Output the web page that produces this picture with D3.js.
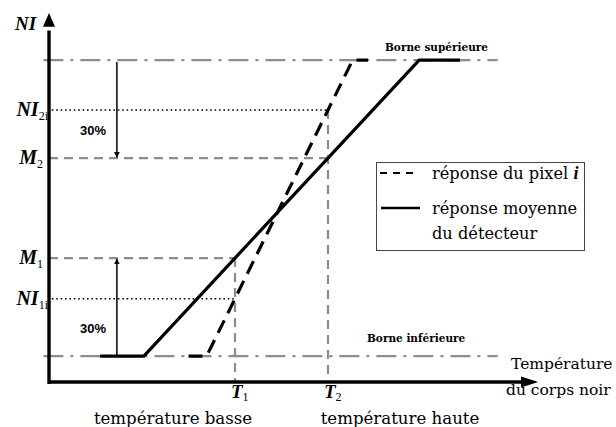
<!DOCTYPE html>
<html>
<head>
<meta charset="utf-8">
<script src="https://cdn.jsdelivr.net/npm/d3@7"></script>
<style>
  html, body { margin: 0; padding: 0; background: #fff; }
  svg { display: block; }
</style>
</head>
<body>
<svg id="chart" width="616" height="427"></svg>
<script>
// Saturation bounds of the detector signal (lower, upper)
const boundNames = ["Borne inférieure", "Borne supérieure"];
const boundValues = [7, 87];

// Calibration temperatures
const tempSymbols = ["T", "T"];
const tempSubs = ["1", "2"];
const tempValues = [40, 60];
const tempCaptions = ["température basse", "température haute"];

// Mean detector level at each temperature (M1, M2)
const meanSymbols = ["M", "M"];
const meanSubs = ["1", "2"];
const meanValues = [33.5, 60.5];

// Level of pixel i at each temperature (NI1i, NI2i)
const pixelSymbols = ["NI", "NI"];
const pixelSubs = ["1i", "2i"];
const pixelValues = [22.5, 73.5];

// Response curves (temperature, signal)
const meanResponseT = [11, 20.4, 79.6, 88.4];
const meanResponseNI = [7, 7, 87, 87];
const pixelResponseT = [30, 33.9, 65.3, 68.6];
const pixelResponseNI = [7, 7, 87, 87];

const spreadLabel = "30%";
const legendLabels = [["réponse du pixel ", "i"], ["réponse moyenne", "du détecteur"]];
const axisTitleY = "NI";
const axisTitleX = ["Température", "du corps noir"];

const svg = d3.select("#chart");
const x = d3.scaleLinear().domain([0, 100]).range([49, 514]);
const y = d3.scaleLinear().domain([0, 100]).range([382, 12]);

const serif = "'DejaVu Serif', serif";
const times = "'Liberation Serif', 'Times New Roman', serif";
const grey = "#8c8c8c";

// Bound lines (dash-dot)
boundValues.forEach(v => {
  svg.append("line")
    .attr("x1", x(-1.2)).attr("x2", x(96.5))
    .attr("y1", y(v)).attr("y2", y(v))
    .attr("stroke", grey).attr("stroke-width", 2.4)
    .attr("stroke-dasharray", "20,7,3,7");
});

// Mean levels: dashed horizontal to the temperature
meanValues.forEach((v, i) => {
  svg.append("line")
    .attr("x1", x(0)).attr("x2", x(tempValues[i]))
    .attr("y1", y(v)).attr("y2", y(v))
    .attr("stroke", grey).attr("stroke-width", 2.2)
    .attr("stroke-dasharray", "9,6");
});

// Pixel levels: dotted horizontal to the temperature
pixelValues.forEach((v, i) => {
  svg.append("line")
    .attr("x1", x(0.6)).attr("x2", x(tempValues[i]))
    .attr("y1", y(v)).attr("y2", y(v))
    .attr("stroke", "#000").attr("stroke-width", 1.6)
    .attr("stroke-dasharray", "1.6,2.8");
});

// Temperature verticals: from the higher of the two levels down to the axis
tempValues.forEach((t, i) => {
  const top = Math.max(meanValues[i], pixelValues[i]);
  svg.append("line")
    .attr("x1", x(t)).attr("x2", x(t))
    .attr("y1", y(top)).attr("y2", y(0))
    .attr("stroke", grey).attr("stroke-width", 2.2)
    .attr("stroke-dasharray", "9,6");
});

// Response curves
const line = d3.line().x(d => x(d[0])).y(d => y(d[1]));
svg.append("path")
  .datum(d3.zip(meanResponseT, meanResponseNI))
  .attr("d", line).attr("fill", "none")
  .attr("stroke", "#000").attr("stroke-width", 3.2);
svg.append("path")
  .datum(d3.zip(pixelResponseT, pixelResponseNI))
  .attr("d", line).attr("fill", "none")
  .attr("stroke", "#000").attr("stroke-width", 3.2)
  .attr("stroke-dasharray", "14,8");

// 30 % spread arrows
const defs = svg.append("defs");
defs.append("marker").attr("id", "thinArrow")
  .attr("viewBox", "0 0 10 10").attr("refX", 9).attr("refY", 5)
  .attr("markerWidth", 6).attr("markerHeight", 6).attr("orient", "auto")
  .attr("markerUnits", "userSpaceOnUse")
  .append("path").attr("d", "M0,0 L10,5 L0,10 Z").attr("fill", "#000");

const spreadX = 14.6;
svg.append("line")
  .attr("x1", x(spreadX)).attr("x2", x(spreadX))
  .attr("y1", y(boundValues[1]) + 2).attr("y2", y(meanValues[1]) - 1)
  .attr("stroke", "#000").attr("stroke-width", 1.5)
  .attr("marker-end", "url(#thinArrow)");
svg.append("line")
  .attr("x1", x(spreadX)).attr("x2", x(spreadX))
  .attr("y1", y(boundValues[0])).attr("y2", y(meanValues[0]) + 1)
  .attr("stroke", "#000").attr("stroke-width", 1.5)
  .attr("marker-end", "url(#thinArrow)");
svg.append("text").attr("x", 80).attr("y", 135)
  .attr("font-family", "'Liberation Sans', Arial, sans-serif")
  .attr("font-weight", "bold").attr("font-size", 13).text(spreadLabel);
svg.append("text").attr("x", 80).attr("y", 333)
  .attr("font-family", "'Liberation Sans', Arial, sans-serif")
  .attr("font-weight", "bold").attr("font-size", 13).text(spreadLabel);

// Axes with arrow heads
svg.append("line").attr("x1", x(0)).attr("x2", x(102))
  .attr("y1", y(0)).attr("y2", y(0)).attr("stroke", "#000").attr("stroke-width", 3.4);
svg.append("path")
  .attr("d", `M${x(105.2)},${y(0)} L${x(101.5)},${y(0) - 5.5} L${x(101.5)},${y(0) + 5.5} Z`)
  .attr("fill", "#000");
svg.append("line").attr("x1", x(0)).attr("x2", x(0))
  .attr("y1", y(0) + 2).attr("y2", y(95))
  .attr("stroke", "#000").attr("stroke-width", 3.4);
svg.append("path")
  .attr("d", `M${x(0)},${y(100) + 1} L${x(0) - 6},${y(96)} L${x(0) + 6},${y(96)} Z`)
  .attr("fill", "#000");

// Axis titles
svg.append("text").attr("x", 15).attr("y", 30)
  .attr("font-family", times).attr("font-style", "italic").attr("font-weight", "bold")
  .attr("font-size", 19).text(axisTitleY);
axisTitleX.forEach((s, i) => {
  svg.append("text").attr("x", i === 0 ? 511 : 506).attr("y", i === 0 ? 369 : 395)
    .attr("font-family", serif).attr("font-size", 15.5).text(s);
});

// Y labels with subscripts
function subLabel(xEnd, yPos, main, sub) {
  const t = svg.append("text").attr("x", xEnd).attr("y", yPos)
    .attr("text-anchor", "end")
    .attr("font-family", times);
  t.append("tspan").attr("font-style", "italic").attr("font-weight", "bold")
    .attr("font-size", 20).text(main);
  t.append("tspan").attr("font-size", 12).attr("dy", 4).text(sub);
}
pixelValues.forEach((v, i) => subLabel(48, y(v) + 6, pixelSymbols[i], pixelSubs[i]));
meanValues.forEach((v, i) => subLabel(43, y(v) + 6, meanSymbols[i], meanSubs[i]));

// Temperature labels
tempValues.forEach((t, i) => {
  const tx = svg.append("text").attr("x", x(t) - 4).attr("y", 398)
    .attr("font-family", times);
  tx.append("tspan").attr("font-style", "italic").attr("font-weight", "bold")
    .attr("font-size", 19).text(tempSymbols[i]);
  tx.append("tspan").attr("font-size", 12).attr("dy", 3).text(tempSubs[i]);
});
svg.append("text").attr("x", 173).attr("y", 424).attr("text-anchor", "middle")
  .attr("font-family", serif).attr("font-size", 16.6).text(tempCaptions[0]);
svg.append("text").attr("x", 400).attr("y", 424).attr("text-anchor", "middle")
  .attr("font-family", serif).attr("font-size", 16.6).text(tempCaptions[1]);

// Bound names
svg.append("text").attr("x", 385).attr("y", y(boundValues[1]) - 9)
  .attr("font-family", serif).attr("font-weight", "bold").attr("font-size", 10.5)
  .text(boundNames[1]);
svg.append("text").attr("x", 367).attr("y", y(boundValues[0]) - 14)
  .attr("font-family", serif).attr("font-weight", "bold").attr("font-size", 10.5)
  .text(boundNames[0]);

// Legend
const lg = svg.append("g");
lg.append("rect").attr("x", 376.5).attr("y", 162.5).attr("width", 208).attr("height", 88)
  .attr("fill", "#fff").attr("stroke", "#444").attr("stroke-width", 1);
lg.append("line").attr("x1", 380).attr("x2", 418).attr("y1", 173).attr("y2", 173)
  .attr("stroke", "#000").attr("stroke-width", 2).attr("stroke-dasharray", "7,6");
lg.append("line").attr("x1", 381).attr("x2", 420).attr("y1", 208).attr("y2", 208)
  .attr("stroke", "#000").attr("stroke-width", 2.4);
const l1 = lg.append("text").attr("x", 432).attr("y", 179)
  .attr("font-family", serif).attr("font-size", 16.2);
l1.append("tspan").text(legendLabels[0][0]);
l1.append("tspan").attr("font-style", "italic").attr("font-family", times)
  .attr("font-weight", "bold").attr("font-size", 18).text(legendLabels[0][1]);
lg.append("text").attr("x", 432).attr("y", 214)
  .attr("font-family", serif).attr("font-size", 16.2).text(legendLabels[1][0]);
lg.append("text").attr("x", 432).attr("y", 239)
  .attr("font-family", serif).attr("font-size", 16.2).text(legendLabels[1][1]);
</script>
</body>
</html>
